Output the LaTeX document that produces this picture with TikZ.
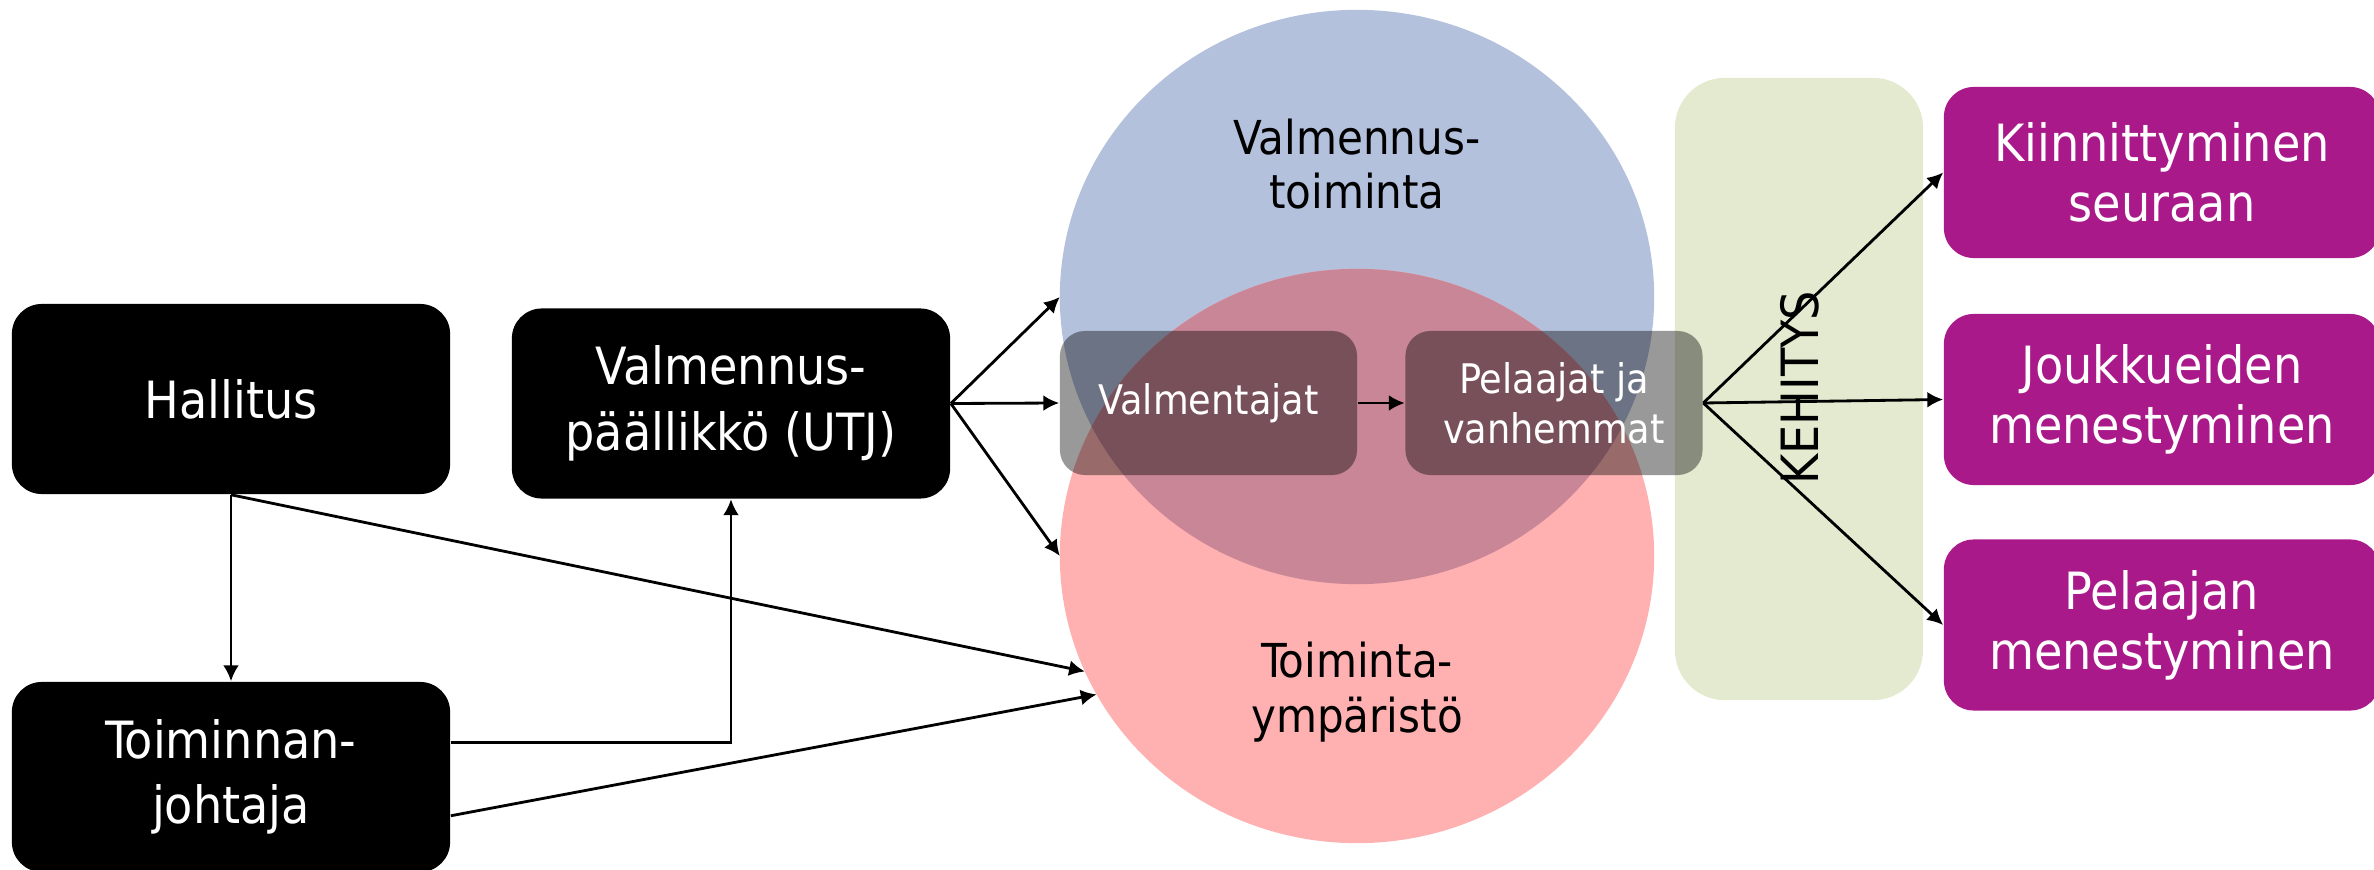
\documentclass[tikz,border=0pt]{standalone}
\usepackage{fontspec}
\setmainfont{DejaVu Sans Condensed}
\usetikzlibrary{shapes.geometric,arrows.meta}
\definecolor{venblue}{RGB}{179,193,221}
\definecolor{venred}{RGB}{255,177,177}
\definecolor{venmix}{RGB}{200,134,150}
\definecolor{kehgreen}{RGB}{228,234,207}
\definecolor{tulpurple}{RGB}{170,25,137}
\tikzset{
  orgbox/.style={fill=black, text=white, rounded corners=0.3cm, align=center,
    minimum width=4.38cm, minimum height=1.9cm, inner sep=0pt,
    font=\fontsize{14.6}{18.6}\selectfont},
  tulbox/.style={fill=tulpurple, text=white, rounded corners=0.3cm, align=center,
    minimum width=4.36cm, minimum height=1.71cm, inner sep=0pt,
    font=\fontsize{14.6}{17}\selectfont},
  toimbox/.style={fill=black, fill opacity=0.4, text opacity=1, text=white,
    rounded corners=0.25cm, align=center, minimum width=2.97cm,
    minimum height=1.44cm, inner sep=0pt, font=\fontsize{11.6}{14.2}\selectfont},
  venn/.style={ellipse, minimum width=5.94cm, minimum height=5.74cm,
    inner sep=0pt, outer sep=0pt},
  venlabel/.style={align=center, font=\fontsize{13.3}{15.6}\selectfont},
  arr/.style={line width=0.8pt, -{Latex[length=4.5pt,width=4.5pt]}}
}
\begin{document}
\begin{tikzpicture}[x=0.01cm, y=-0.01cm]
\useasboundingbox (0,0) rectangle (2374,870);

\node [fill=kehgreen, rounded corners=0.5cm, minimum width=2.48cm, minimum height=6.22cm] (kbar) at (1799,389) {};
\node [rotate=90, font=\fontsize{14.6}{17}\selectfont] (keh) at (1800,388) {KEHITYS};

\node [venn, fill=venblue] (blue) at (1357,297) {};
\node [venn, fill=venred] (red) at (1357,556) {};
\begin{scope}
\clip (blue.center) ellipse [x radius=2.97cm, y radius=2.87cm];
\fill [venmix] (red.center) ellipse [x radius=2.97cm, y radius=2.87cm];
\end{scope}
\node [venlabel] (vtxt) at (1357,164) {Valmennus-\\toiminta};
\node [venlabel] (ytxt) at (1357,692) {Toiminta-\\ympäristö};

\node [toimbox] (val) at (1208.5,403) {Valmentajat};
\node [toimbox] (pel) at (1554,403) {Pelaajat ja\\vanhemmat};

\node [orgbox] (hal) at (231,399) {Hallitus};
\node [orgbox] (vp) at (731,403.5) {Valmennus-\\päällikkö (UTJ)};
\node [orgbox] (toim) at (231,777) {Toiminnan-\\johtaja};

\node [tulbox] (kiin) at (2162,172.5) {Kiinnittyminen\\seuraan};
\node [tulbox] (jouk) at (2162,399.5) {Joukkueiden\\menestyminen};
\node [tulbox] (pelm) at (2162,625) {Pelaajan\\menestyminen};

\draw [arr] (hal.south) -- (toim.north);
\draw [arr] (hal.south) -- (red.203);
\draw [arr] (toim.9) -| (vp.south);
\draw [arr] (toim.-10.9) -- (red.208);
\draw [arr] (vp.east) -- (blue.west);
\draw [arr] (vp.east) -- (val.west);
\draw [arr] (vp.east) -- (red.west);
\draw [arr] (val.east) -- (pel.west);
\draw [arr] (pel.east) -- (kiin.west);
\draw [arr] (pel.east) -- (jouk.west);
\draw [arr] (pel.east) -- (pelm.west);
\end{tikzpicture}
\end{document}
